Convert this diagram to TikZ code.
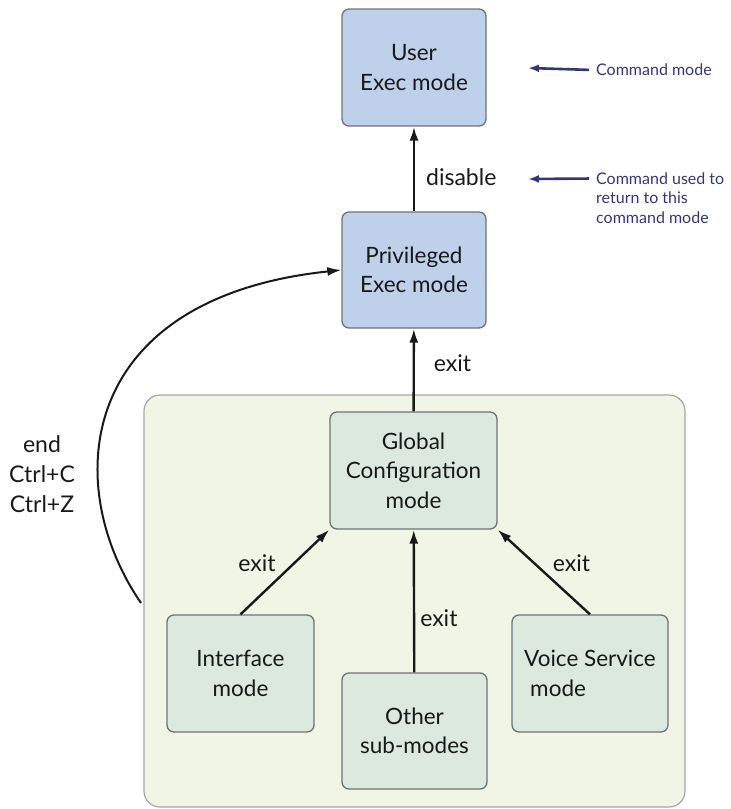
\documentclass[tikz,border=0pt]{standalone}
\usepackage{fontspec}
\setmainfont{Lato}
\usepackage{xcolor}
\definecolor{modeblue}{HTML}{BFD0EA}
\definecolor{cfgbg}{HTML}{F1F5E6}
\definecolor{cfggreen}{HTML}{DBE9DF}
\definecolor{modeedge}{HTML}{6E7379}
\definecolor{notenavy}{HTML}{33377A}
\usepackage{tikz}
\usetikzlibrary{arrows.meta,positioning}
\tikzset{
  modebox/.style={draw=modeedge,line width=1.3pt,rounded corners=7pt,fill=modeblue,align=center,font=\fontsize{22.5}{29.5}\selectfont,text=black!90,minimum width=144pt,minimum height=117pt},
  subbox/.style={modebox,fill=cfggreen},
  cfgarea/.style={draw=black!35,line width=1.2pt,rounded corners=16pt,fill=cfgbg},
  modeflow/.style={-{Latex[length=14pt,width=9pt]},line width=2.4pt,black!90},
  modelabel/.style={font=\fontsize{23}{30}\selectfont,text=black!90,inner sep=3pt},
  notetext/.style={font=\fontsize{16}{19.5}\selectfont,text=notenavy,align=left,anchor=west,inner sep=3pt},
  notearrow/.style={-{Latex[length=11pt,width=8pt]},line width=2.6pt,notenavy,shorten <=4pt},
}

\begin{document}
\begin{tikzpicture}[x=1pt,y=-1pt]
\useasboundingbox (0,0) rectangle (731,809);
 % configuration area
\node[cfgarea,minimum width=541pt,minimum height=412pt] (cfg) at (414.5,601) {};
 % exec modes
\node[modebox] (user) at (414,67.5) {User\\Exec mode};
\node[modebox,minimum height=116pt] (priv) at (414,270) {Privileged\\Exec mode};
 % config modes
\node[subbox,minimum width=167pt] (global) at (413.5,470.5) {Global\\Configuration\\mode};
\node[subbox,minimum width=147pt] (iface) at (240.5,673.5) {Interface\\mode};
\node[subbox,minimum width=145pt,minimum height=116pt] (other) at (414.5,731) {Other\\sub-modes};
\node[subbox,minimum width=156pt,align=left] (voice) at (590,673.5) {Voice Service\\\hspace*{6pt}mode};
\draw[modeflow](priv) -- node[modelabel,pos=0.4,right=8pt]{disable} (user);
\draw[modeflow](global) -- node[modelabel,pos=0.58,right=16pt]{exit} (priv);
\draw[modeflow](iface.north) -- node[modelabel,pos=0.6,left=14pt]{exit} (global.south west);
\draw[modeflow](other) -- node[modelabel,pos=0.38,right=2pt]{exit} (global);
\draw[modeflow](voice.north) -- node[modelabel,pos=0.6,right=14pt]{exit} (global.south east);
 % back to privileged
\coordinate (ctrlfrom) at (141,603);
\draw[modeflow,line width=2pt](ctrlfrom) .. controls (60,485) and (76,298) .. (priv.west);
\node[modelabel,align=center] (keys) at (42,474) {end\\Ctrl+C\\Ctrl+Z};
 % legend
\node[notetext] (modenote) at (593,70) {Command mode};
\coordinate (modetip) at (528,68);
\draw[notearrow](modenote.west) -- (modetip);
\node[notetext] (cmdnote) at (593,198) {Command used to\\return to this\\command mode};
\coordinate (cmdtip) at (528,179);
\draw[notearrow]([yshift=19.5pt]cmdnote.west) -- (cmdtip);
\end{tikzpicture}
\end{document}
